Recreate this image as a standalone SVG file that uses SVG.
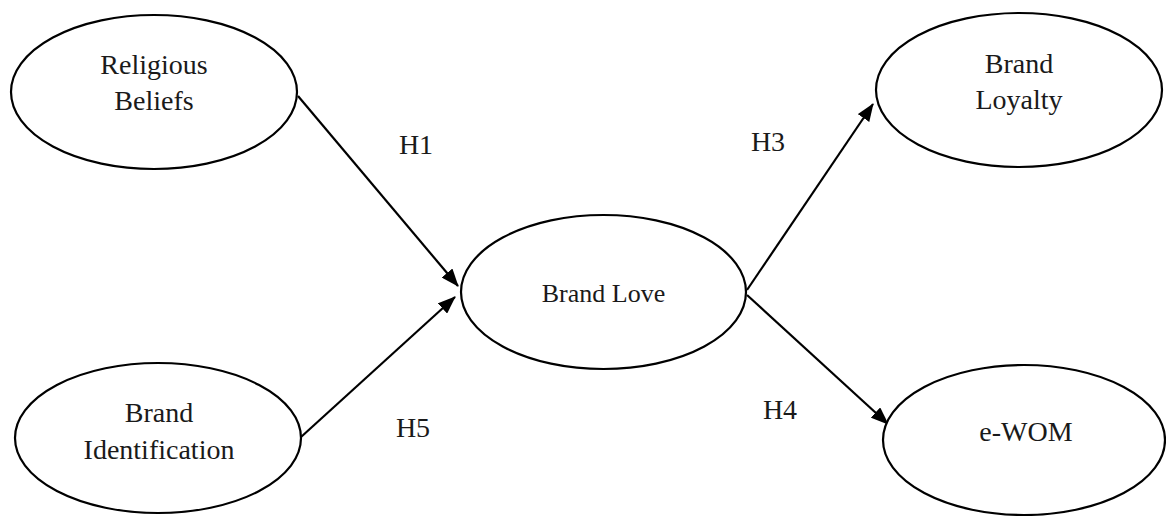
<svg xmlns="http://www.w3.org/2000/svg" width="1166" height="516" viewBox="0 0 1166 516">
<style>
.node ellipse{fill:#fff;stroke:#000;stroke-width:2.2}
.t{font-family:"Liberation Serif","Times New Roman",serif;font-size:28px;fill:#1a1a1a;text-anchor:middle}
.bl{font-size:26px}
.edge{stroke:#000;stroke-width:2.2;fill:none;marker-end:url(#ah)}
</style>
<defs>
<marker id="ah" markerUnits="userSpaceOnUse" markerWidth="18" markerHeight="14" refX="17" refY="7" orient="auto">
<path d="M0,0 L18,7 L0,14 Z" fill="#000"/>
</marker>
</defs>
<g id="connectors">
<line class="edge" x1="298" y1="96" x2="458" y2="286"/>
<line class="edge" x1="301" y1="437" x2="455" y2="297"/>
<line class="edge" x1="747" y1="290" x2="873" y2="104"/>
<line class="edge" x1="747" y1="295" x2="888" y2="424"/>
<text class="t" x="416" y="154">H1</text>
<text class="t" x="413" y="437">H5</text>
<text class="t" x="768" y="151">H3</text>
<text class="t" x="780" y="419">H4</text>
</g>
<g id="religious-beliefs" class="node">
<ellipse cx="154" cy="92" rx="143" ry="77"/>
<text class="t" x="154" y="74">Religious</text>
<text class="t" x="154" y="110">Beliefs</text>
</g>
<g id="brand-identification" class="node">
<ellipse cx="158" cy="438" rx="143" ry="75"/>
<text class="t" x="159" y="422">Brand</text>
<text class="t" x="159" y="459">Identification</text>
</g>
<g id="brand-love" class="node">
<ellipse cx="603.5" cy="292" rx="142.5" ry="77"/>
<text class="t bl" x="603.5" y="302">Brand Love</text>
</g>
<g id="brand-loyalty" class="node">
<ellipse cx="1019" cy="90" rx="143" ry="77"/>
<text class="t" x="1019" y="73">Brand</text>
<text class="t" x="1019" y="109">Loyalty</text>
</g>
<g id="e-wom" class="node">
<ellipse cx="1024" cy="440" rx="141" ry="75"/>
<text class="t" x="1026" y="441">e-WOM</text>
</g>
</svg>
